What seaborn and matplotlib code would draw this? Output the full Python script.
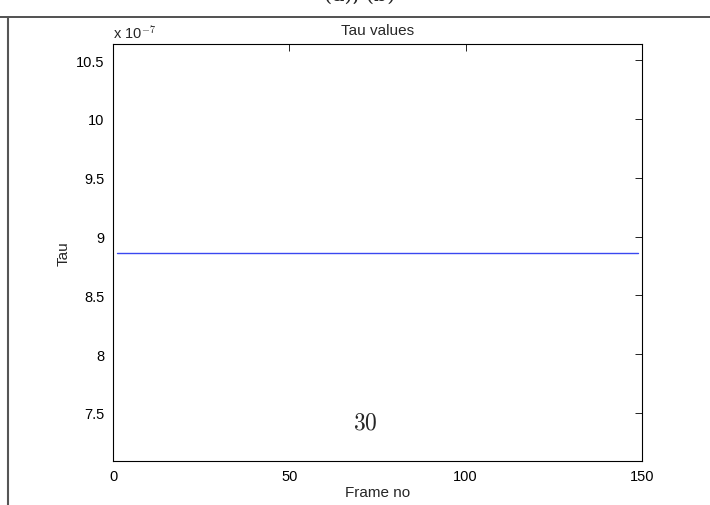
import numpy as np
import pandas as pd
import matplotlib
matplotlib.use("Agg")
import matplotlib.pyplot as plt
from matplotlib.lines import Line2D
from matplotlib.ticker import FuncFormatter
import seaborn as sns

# Per-frame tau estimate (constant over the sequence)
frames = np.arange(1, 150)
tau_value = 8.864e-7
tau = np.full(frames.size, tau_value)

x_ticks = [0, 50, 100, 150]
y_ticks_scaled = [7.5, 8, 8.5, 9, 9.5, 10, 10.5]
y_scale = 1e-7

df = pd.DataFrame({"Frame no": frames, "Tau": tau})

sns.set_style("white")
plt.rcParams["font.family"] = ["Liberation Sans", "DejaVu Sans"]
plt.rcParams["mathtext.fontset"] = "cm"

W, H = 710, 506
fig = plt.figure(figsize=(W / 100, H / 100), dpi=100)
ax = fig.add_axes([113 / W, 1 - 462 / H, 529 / W, 417 / H])

sns.lineplot(data=df, x="Frame no", y="Tau", ax=ax, color="#3a48f0",
             linewidth=1.0, legend=False)

ax.set_xlim(0, 150)
ax.set_ylim(0.8 * tau_value, 1.2 * tau_value)
ax.set_xticks(x_ticks)
ax.set_yticks([v * y_scale for v in y_ticks_scaled])
ax.yaxis.set_major_formatter(FuncFormatter(lambda v, p: f"{v / y_scale:g}"))

for s in ax.spines.values():
    s.set_visible(True)
    s.set_color("black")
    s.set_linewidth(0.8)
ax.tick_params(direction="in", length=5, width=0.6, top=True, right=True,
               labelsize=10.5, colors="black", pad=6)
ax.set_xlabel("Frame no", fontsize=11, labelpad=1)
ax.set_ylabel("Tau", fontsize=11, labelpad=4)
ax.set_title("Tau values", fontsize=11, pad=7)
ax.text(0.0, 1.008, r"x 10$^{-7}$", transform=ax.transAxes, fontsize=10.5,
        ha="left", va="bottom")

# Page number printed below the plot
fig.text(365 / W, 1 - 424 / H, r"$30$", fontsize=17, ha="center", va="center")

# Surrounding page frame lines and caption running off the top edge
fig.add_artist(Line2D([0, 1], [1 - 18 / H, 1 - 18 / H], color="#333333", lw=1.2))
fig.add_artist(Line2D([8 / W, 8 / W], [0, 1 - 18 / H], color="#555555", lw=1.5))
fig.text(360 / W, 1 - 1 / H, "(a), (b)", fontsize=15, ha="center",
         va="baseline", family="DejaVu Serif")

fig.savefig("out.png", dpi=100)
